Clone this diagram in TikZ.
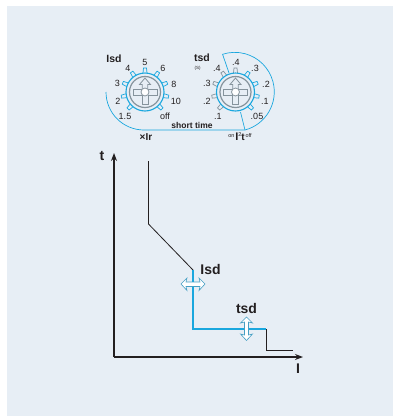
\documentclass[tikz,border=0pt]{standalone}
\usepackage{fontspec}
\setmainfont{Liberation Sans}
\usetikzlibrary{arrows.meta}
\definecolor{panelbg}{HTML}{E7EEF5}
\definecolor{dialblue}{HTML}{1AA7DE}
\definecolor{dialgray}{HTML}{85939C}
\definecolor{inkblack}{HTML}{231F20}
\newcommand{\dialteeth}[4]{%
  \foreach \ang in {#3} {
    \draw[toothline, draw=#4, rotate around={\ang:(#1,#2)}] (#1-2.2,#2-17) -- (#1-1.5,#2-24) -- (#1+1.5,#2-24) -- (#1+2.2,#2-17);
  }
}
\newcommand{\dialface}[2]{%
  \draw[ringblue] (#1,#2) circle[radius=19];
  \draw[ringgray] (#1,#2) circle[radius=15.5];
  \draw[armline] (#1-2.7,#2-3) -- (#1-2.7,#2-7.5) -- (#1-5.5,#2-7.5) -- (#1,#2-14) -- (#1+5.5,#2-7.5) -- (#1+2.7,#2-7.5) -- (#1+2.7,#2-3);
  \draw[armline] (#1-3,#2-3) -- (#1-12,#2-3) -- (#1-12,#2+3) -- (#1-3,#2+3);
  \draw[armline] (#1+3,#2-3) -- (#1+12,#2-3) -- (#1+12,#2+3) -- (#1+3,#2+3);
  \draw[armline] (#1-3,#2+3) -- (#1-3,#2+12) -- (#1+3,#2+12) -- (#1+3,#2+3);
  \draw[armline, fill=white] (#1,#2) circle[radius=4];
}
\begin{document}
\begin{tikzpicture}[
    x=1pt, y=-1pt,
    >=Stealth,
    toothline/.style={line width=0.7pt, fill=panelbg},
    ringblue/.style={draw=dialblue, line width=1.1pt, fill=panelbg},
    ringgray/.style={draw=dialgray, line width=1.2pt, fill=panelbg},
    armline/.style={draw=dialgray, line width=0.8pt},
    scaleline/.style={draw=dialblue, line width=0.7pt},
    axisline/.style={draw=inkblack, line width=2.1pt},
    curveblack/.style={draw=inkblack, line width=0.8pt},
    curveblue/.style={draw=dialblue, line width=2.4pt},
    tick/.style={font=\fontsize{9}{9}\selectfont, text=inkblack, inner sep=0pt},
    dialname/.style={font=\fontsize{10.5}{11}\selectfont\bfseries, text=inkblack, inner sep=0pt},
    axisname/.style={font=\fontsize{14}{15}\selectfont\bfseries, text=inkblack, inner sep=0pt},
    curvename/.style={font=\fontsize{14}{15}\selectfont\bfseries, text=inkblack, inner sep=0pt},
    shiftarrow/.style={draw=dialblue!60!dialgray, line width=0.6pt, fill=white}
]
    \useasboundingbox (0,0) rectangle (393,416);
    \fill[white] (0,0) rectangle (393,416);
    \fill[panelbg] (7,6) rectangle (393,416);

    % scale lines
    \draw[scaleline] (106,92) arc[start angle=180, end angle=90, radius=38] -- (245,130) arc[start angle=75, end angle=-108, radius=39.5] -- (229,73);
    \draw[scaleline] (245,130) -- (240.5,112);

    % dials
    \dialteeth{145}{92}{-135,-101.25,...,136}{dialblue}
    \dialface{145}{92}
    \dialteeth{235.5}{92}{-135,-101.25,-67.5,-33.75}{dialblue}
    \dialteeth{235.5}{92}{0,33.75,...,136}{dialgray}
    \dialface{235.5}{92}

    % Isd dial
    \node[dialname] (isdname) at (114,59) {Isd};
    \node[tick] (isda) at (125,116) {1.5};
    \node[tick] (isdb) at (118,101) {2};
    \node[tick] (isdc) at (117.5,83) {3};
    \node[tick] (isdd) at (128,68) {4};
    \node[tick] (isde) at (145,62) {5};
    \node[tick] (isdf) at (163,68) {6};
    \node[tick] (isdg) at (174,84) {8};
    \node[tick] (isdh) at (176,101) {10};
    \node[tick] (isdi) at (165,116) {off};
    \node[tick, font=\fontsize{10}{10}\selectfont\bfseries] (isdunit) at (146,137) {×Ir};

    % tsd dial
    \node[dialname] (tsdname) at (202,58) {tsd};
    \node[tick, font=\fontsize{4.5}{5}\selectfont] (tsdunit) at (197.5,68) {(S)};
    \node[tick] (tsda) at (218,116) {.1};
    \node[tick] (tsdb) at (207,101) {.2};
    \node[tick] (tsdc) at (207,83) {.3};
    \node[tick] (tsdd) at (217,68) {.4};
    \node[tick] (tsde) at (236,62) {.4};
    \node[tick] (tsdf) at (255,68) {.3};
    \node[tick] (tsdg) at (266,84) {.2};
    \node[tick] (tsdh) at (265,101) {.1};
    \node[tick] (tsdi) at (257,116) {.05};
    \node[tick, font=\fontsize{8.5}{9}\selectfont\bfseries] (shorttime) at (192,125) {short time};
    \node[tick, font=\fontsize{5.5}{6}\selectfont] (onoff) at (240,137) {\raisebox{3pt}{on}\,{\fontsize{11}{11}\selectfont\bfseries I}\raisebox{4pt}{2}{\fontsize{10}{10}\selectfont\bfseries t}\,\raisebox{3pt}{off}};

    % axes
    \coordinate (origin) at (114,357);
    \coordinate (ttop) at (114,153);
    \coordinate (iend) at (303,357);
    \draw[axisline, -{Stealth[length=8pt,width=6pt]}] (origin) -- (ttop);
    \draw[axisline, -{Stealth[length=8pt,width=6pt]}] (origin) -- (iend);
    \node[axisname] (tname) at (102,156) {t};
    \node[axisname] (iname) at (298,369) {I};

    % curve
    \coordinate (ca) at (148.5,161);
    \coordinate (cb) at (148.5,224);
    \coordinate (cc) at (193,270);
    \coordinate (cd) at (193,329);
    \coordinate (ce) at (266,329);
    \coordinate (cf) at (266,350);
    \coordinate (cg) at (293,350);
    \draw[curveblack] (ca) -- (cb) -- (cc);
    \draw[curveblue] (cc) -- (cd) -- (ce);
    \draw[curveblack] (ce) -- (cf) -- (cg);

    % shift arrows
    \draw[shiftarrow] (186,282) -- (200,282) -- (199,278) -- (205,284) -- (199,290.5) -- (200,286.5) -- (186,286.5) -- (187,290.5) -- (181,284) -- (187,278) -- cycle;
    \draw[shiftarrow] (244.5,322) -- (244.5,335) -- (240.5,334) -- (246.5,340.5) -- (252.5,334) -- (248.5,335) -- (248.5,322) -- (252.5,323) -- (246.5,317) -- (240.5,323) -- cycle;
    \node[curvename] (isdlabel) at (210.5,269.5) {Isd};
    \node[curvename] (tsdlabel) at (246.5,308) {tsd};
\end{tikzpicture}
\end{document}
